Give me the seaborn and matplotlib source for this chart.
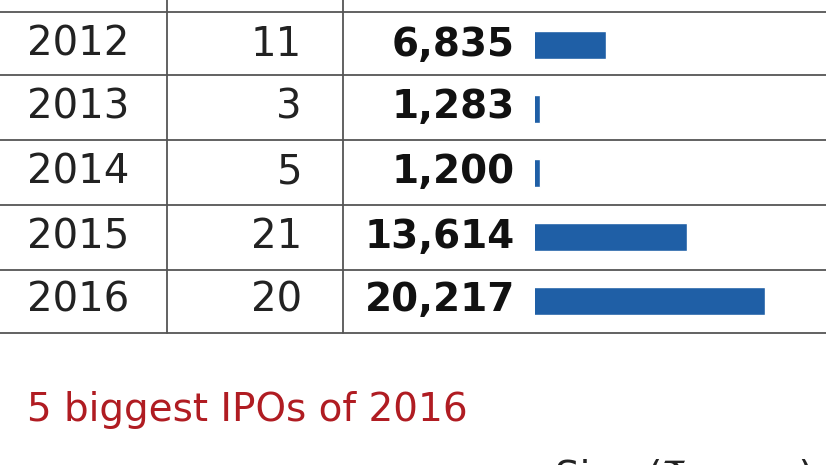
import matplotlib
matplotlib.use("Agg")
import matplotlib.pyplot as plt
import seaborn as sns
import pandas as pd

years = ["2012", "2013", "2014", "2015", "2016"]
counts = [11, 3, 5, 21, 20]
amounts = [6835, 1283, 1200, 13614, 20217]
title = "5 biggest IPOs of 2016"

sns.set_style("white")
plt.rcParams['font.family'] = ['DejaVu Sans']

W, H = 826, 465
fig = plt.figure(figsize=(W/100, H/100), dpi=100)
ax = fig.add_axes([0, 0, 1, 1])
ax.set_xlim(0, W); ax.set_ylim(H, 0); ax.axis("off")

for y in [12, 75, 140, 205, 270, 333]:
    ax.plot([0, W], [y, y], color="#555555", lw=1.3)
for x in [167, 343]:
    ax.plot([x, x], [0, 333], color="#555555", lw=1.3)

centers = [45, 107, 172, 237, 300]
for yr, c, a, yc in zip(years, counts, amounts, centers):
    ax.text(27, yc, yr, fontsize=29, va="center", ha="left", color="#222222")
    ax.text(302, yc, str(c), fontsize=29, va="center", ha="right", color="#222222")
    ax.text(515, yc, f"{a:,}", fontsize=28, va="center", ha="right", color="#111111", fontweight="bold")

ax.text(27, 410, title, fontsize=28, va="center", ha="left", color="#b01c22")
ax.text(555, 478, "Size (\u20b9 crore)", fontsize=28, va="center", ha="left", color="#222222")

# bar axes (scale origin is offset in the source graphic)
x0, x1 = 535, 765
y_top, y_bot = 13, 333
bax = fig.add_axes([x0/W, 1 - y_bot/H, (x1-x0)/W, (y_bot-y_top)/H])
df = pd.DataFrame({"year": years, "amount": amounts})
sns.barplot(data=df, x="amount", y="year", order=years, color="#1f5fa6",
            saturation=1, width=0.44, ax=bax)
bax.set_xlim(820, 20217)
bax.axis("off")
bax.patch.set_alpha(0)

fig.savefig("out.png", dpi=100)
